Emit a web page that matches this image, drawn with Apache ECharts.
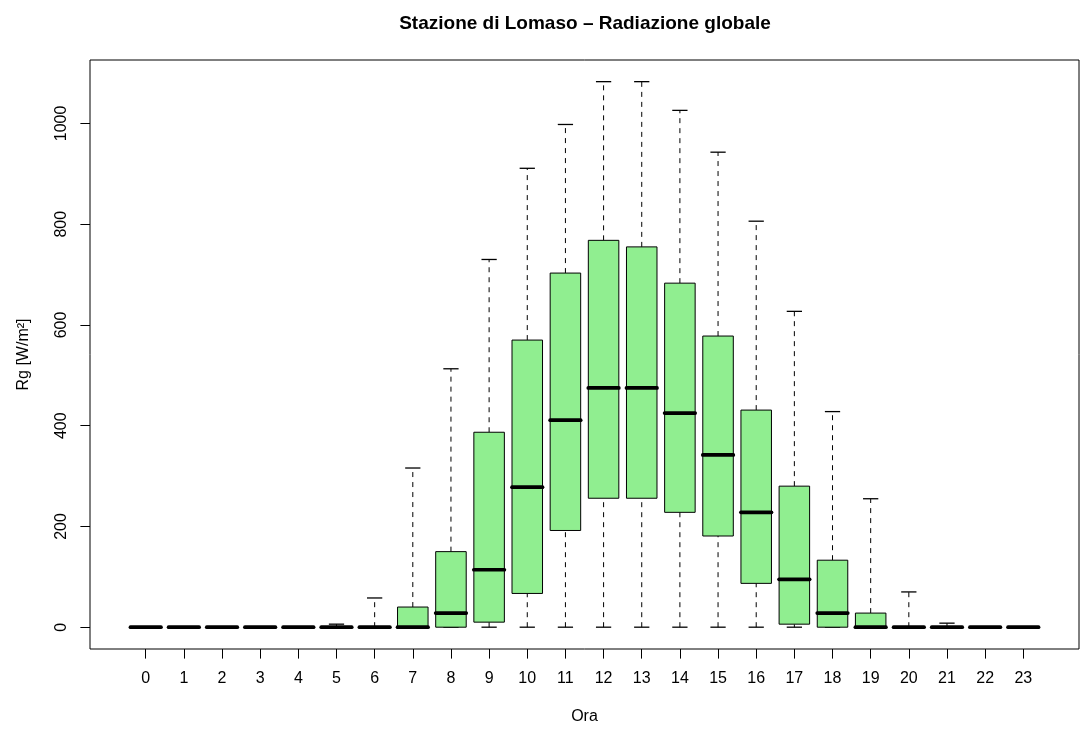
<!DOCTYPE html>
<html>
<head>
<meta charset="utf-8">
<script src="https://cdn.jsdelivr.net/npm/echarts@6/dist/echarts.min.js"></script>
<style>
html,body{margin:0;padding:0;background:#fff;}
#chart{width:1080px;height:738px;}
</style>
</head>
<body>
<div id="chart"></div>
<script>
// Hours (categories)
const hours = [0,1,2,3,4,5,6,7,8,9,10,11,12,13,14,15,16,17,18,19,20,21,22,23];
// Box statistics per hour (W/m²)
const whiskerLow = [0,0,0,0,0,0,0,0,0,0,0,0,0,0,0,0,0,0,0,0,0,0,0,0];
const q1 =        [0,0,0,0,0,0,0,0,0,10,67,192,256,256,228,181,87,6,0,0,0,0,0,0];
const median =    [0,0,0,0,0,0,0,0,28,114,278,411,475,475,425,342,228,95,28,0,0,0,0,0];
const q3 =        [0,0,0,0,0,0,0,40,150,387,570,703,768,755,683,578,431,280,133,28,0,0,0,0];
const whiskerHigh=[0,0,0,0,0,6,58,316,513,730,911,998,1083,1083,1026,943,806,627,428,255,70,8,0,0];
const yTicks = [0,200,400,600,800,1000];

const data = hours.map((h,i)=>[h, whiskerLow[i], q1[i], median[i], q3[i], whiskerHigh[i]]);

const chart = echarts.init(document.getElementById('chart'));
const FONT = '"Liberation Sans", Arial, Helvetica, sans-serif';

function renderItem(params, api){
  const x = api.value(0);
  const vmin = api.value(1), vq1 = api.value(2), vmed = api.value(3), vq3 = api.value(4), vmax = api.value(5);
  const halfBox = 0.4, halfCap = 0.2;
  const children = [];
  const dashed = {stroke:'#000', lineWidth:1, lineDash:[5,5]};
  const solid = {stroke:'#000', lineWidth:1.3};
  if (vmax > vq3) {
    const a = api.coord([x, vq3]), b = api.coord([x, vmax]);
    children.push({type:'line', shape:{x1:a[0],y1:a[1],x2:b[0],y2:b[1]}, style:dashed});
  }
  if (vq1 > vmin) {
    const a = api.coord([x, vmin]), b = api.coord([x, vq1]);
    children.push({type:'line', shape:{x1:a[0],y1:a[1],x2:b[0],y2:b[1]}, style:dashed});
  }
  [vmin, vmax].forEach(v=>{
    const a = api.coord([x-halfCap, v]), b = api.coord([x+halfCap, v]);
    children.push({type:'line', shape:{x1:a[0],y1:a[1],x2:b[0],y2:b[1]}, style:solid});
  });
  if (vq3 > vq1) {
    const tl = api.coord([x-halfBox, vq3]), br = api.coord([x+halfBox, vq1]);
    children.push({type:'rect', shape:{x:tl[0], y:tl[1], width:br[0]-tl[0], height:br[1]-tl[1]},
      style:{fill:'#90EE90', stroke:'#000', lineWidth:1}});
  }
  const m1 = api.coord([x-halfBox, vmed]), m2 = api.coord([x+halfBox, vmed]);
  children.push({type:'line', shape:{x1:m1[0],y1:m1[1],x2:m2[0],y2:m2[1]},
    style:{stroke:'#000', lineWidth:3.7, lineCap:'round'}});
  return {type:'group', children};
}

chart.setOption({
  animation:false,
  backgroundColor:'#fff',
  title:{
    text:'Stazione di Lomaso – Radiazione globale',
    left:580, top:9, textAlign:'center',
    textStyle:{fontFamily:FONT, fontWeight:'bold', fontSize:19, color:'#000'}
  },
  grid:{left:90, right:1, top:60, bottom:89, show:true, borderColor:'#000', borderWidth:1, backgroundColor:'transparent'},
  xAxis:{
    type:'value', min:-1.46, max:24.46,
    name:'Ora', nameLocation:'middle', nameGap:60,
    nameTextStyle:{fontFamily:FONT, fontSize:16, color:'#000'},
    axisLine:{show:false, onZero:false},
    axisTick:{show:true, length:9.6, customValues:hours, lineStyle:{color:'#000', width:1}},
    axisLabel:{show:true, customValues:hours, margin:22, fontFamily:FONT, fontSize:16, color:'#000'},
    splitLine:{show:false}
  },
  yAxis:{
    type:'value', min:-43.3, max:1126,
    name:'Rg [W/m²]', nameLocation:'middle', nameGap:58, nameRotate:90,
    nameTextStyle:{fontFamily:FONT, fontSize:16, color:'#000'},
    axisLine:{show:false, onZero:false},
    axisTick:{show:true, length:9.6, customValues:yTicks, lineStyle:{color:'#000', width:1}},
    axisLabel:{show:true, customValues:yTicks, rotate:90, margin:20, fontFamily:FONT, fontSize:16, color:'#000',
      formatter:function(v){return String(v);}},
    splitLine:{show:false}
  },
  series:[{
    type:'custom',
    renderItem:renderItem,
    encode:{x:0, y:[1,2,3,4,5]},
    data:data,
    clip:true,
    z:2
  }]
});
</script>
</body>
</html>
